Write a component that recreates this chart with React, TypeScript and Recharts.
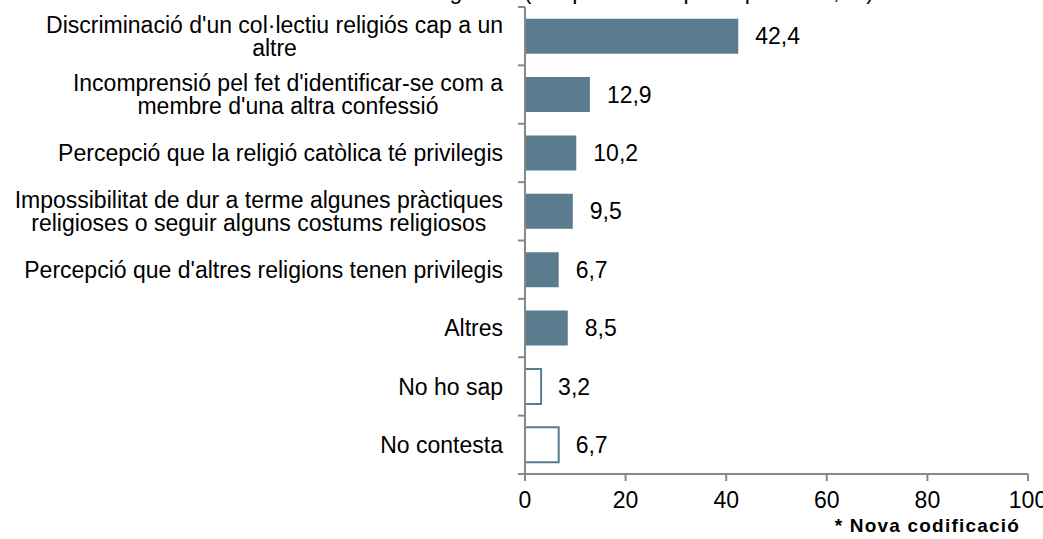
import { Bar, BarChart, Cell, LabelList, XAxis, YAxis } from 'recharts'

const categories = [
  "Discriminació d'un col·lectiu religiós cap a un\naltre",
  "Incomprensió pel fet d'identificar-se com a\nmembre d'una altra confessió",
  'Percepció que la religió catòlica té privilegis',
  'Impossibilitat de dur a terme algunes pràctiques\nreligioses o seguir alguns costums religiosos',
  "Percepció que d'altres religions tenen privilegis",
  'Altres',
  'No ho sap',
  'No contesta',
]
const values = [42.4, 12.9, 10.2, 9.5, 6.7, 8.5, 3.2, 6.7]
const noAnswer = [false, false, false, false, false, false, true, true]
const xTicks = [0, 20, 40, 60, 80, 100]

const data = categories.map((name, i) => ({ name, value: values[i], outline: noAnswer[i] }))

const W = 1043
const H = 539
const TOP = 7
const X_AXIS_H = 30
const BOTTOM = 65 - X_AXIS_H
const AXIS_X = 525
const BAND = (H - TOP - 65) / categories.length
const LINE_H = 23
const LABEL_RIGHT = 503
const FS = 23
const FONT = '"Liberation Sans", Arial, sans-serif'
const BAR = '#5b7c8f'
const AXIS = '#888888'

let ctx: CanvasRenderingContext2D | null = null
function measure(s: string) {
  if (!ctx) {
    ctx = document.createElement('canvas').getContext('2d')
    if (ctx) ctx.font = `${FS}px ${FONT}`
  }
  return ctx ? ctx.measureText(s).width : s.length * 11
}

function CategoryTick(props: any) {
  const { y, payload, index } = props
  const lines = String(payload.value).split('\n')
  const w = Math.max(...lines.map(measure))
  const cx = LABEL_RIGHT - w / 2
  const y0 = y - ((lines.length - 1) * LINE_H) / 2
  return (
    <g>
      <line x1={AXIS_X - 7} x2={AXIS_X} y1={y - BAND / 2} y2={y - BAND / 2} stroke={AXIS} strokeWidth={2} />
      {index === categories.length - 1 && (
        <line x1={AXIS_X - 7} x2={AXIS_X} y1={y + BAND / 2} y2={y + BAND / 2} stroke={AXIS} strokeWidth={2} />
      )}
      <text textAnchor="middle" fontSize={FS} fill="#000" fontFamily={FONT}>
        {lines.map((l, i) => (
          <tspan key={i} x={cx} y={y0 + i * LINE_H} dy="0.36em">
            {l}
          </tspan>
        ))}
      </text>
    </g>
  )
}

export default function App() {
  return (
    <div style={{ position: 'absolute', left: 0, top: 0, width: W, height: H, overflow: 'hidden', background: '#fff', fontFamily: FONT }}>
      <div style={{ position: 'absolute', top: -22, left: 0, width: 874, textAlign: 'right', fontSize: FS, whiteSpace: 'nowrap' }}>
        religiosa? (Resposta múltiple espontània, %)
      </div>
      <BarChart
        width={W}
        height={H}
        data={data}
        layout="vertical"
        margin={{ top: TOP, right: 15, bottom: BOTTOM, left: 0 }}
        barCategoryGap="20%"
        style={{ fontFamily: FONT }}
      >
        <XAxis
          type="number"
          domain={[0, 100]}
          ticks={xTicks}
          interval={0}
          height={X_AXIS_H}
          tickSize={7}
          tickMargin={11}
          axisLine={{ stroke: AXIS, strokeWidth: 2 }}
          tickLine={{ stroke: AXIS, strokeWidth: 2 }}
          tick={{ fill: '#000', fontSize: FS }}
        />
        <YAxis
          type="category"
          dataKey="name"
          width={AXIS_X}
          interval={0}
          tickLine={false}
          axisLine={{ stroke: AXIS, strokeWidth: 2 }}
          tick={<CategoryTick />}
        />
        <Bar dataKey="value" isAnimationActive={false}>
          {data.map((d) => (
            <Cell
              key={d.name}
              fill={d.outline ? '#fff' : BAR}
              stroke={d.outline ? BAR : 'none'}
              strokeWidth={2}
            />
          ))}
          <LabelList
            dataKey="value"
            position="right"
            offset={17}
            fill="#000"
            fontSize={FS}
            formatter={(v: any) => String(v).replace('.', ',')}
          />
        </Bar>
      </BarChart>
      <div style={{ position: 'absolute', top: 515, right: 23, fontSize: 19, fontWeight: 'bold', letterSpacing: 1.2, whiteSpace: 'nowrap' }}>
        * Nova codificació
      </div>
    </div>
  )
}
